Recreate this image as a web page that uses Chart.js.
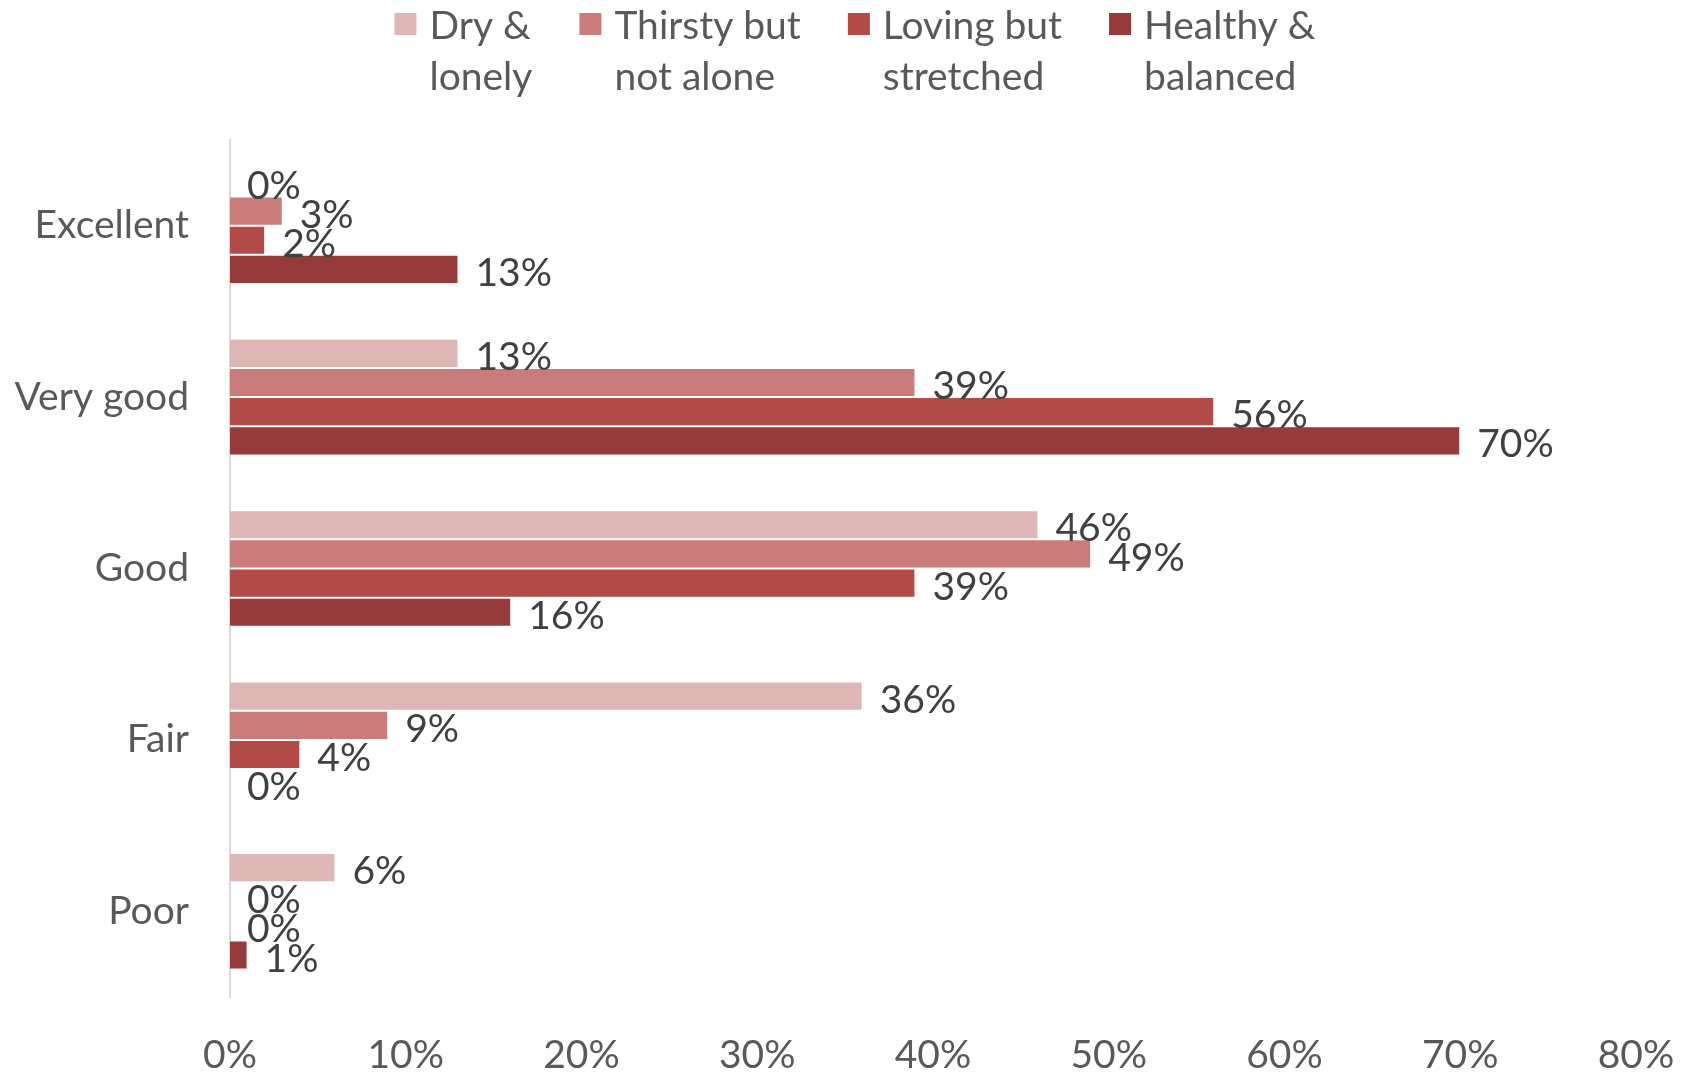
<!DOCTYPE html>
<html>
<head>
<meta charset="utf-8">
<script src="https://cdn.jsdelivr.net/npm/chart.js@4/dist/chart.umd.min.js"></script>
<style>
  html, body { margin: 0; padding: 0; background: #ffffff; }
  #wrap { position: relative; width: 1690px; height: 1075px; }
</style>
</head>
<body>
<div id="wrap"><canvas id="chart"></canvas></div>
<script>
// Self-rated health by relationship profile (share of respondents, %)
const categories = ['Excellent', 'Very good', 'Good', 'Fair', 'Poor'];
const seriesNames = [['Dry &', 'lonely'], ['Thirsty but', 'not alone'], ['Loving but', 'stretched'], ['Healthy &', 'balanced']];
const dryLonely      = [0, 13, 46, 36, 6];
const thirstyNotAlone = [3, 39, 49, 9, 0];
const lovingStretched = [2, 56, 39, 4, 0];
const healthyBalanced = [13, 70, 16, 0, 1];
const xTicks = [0, 10, 20, 30, 40, 50, 60, 70, 80];
const seriesColors = ['#DFB6B6', '#CA7C7B', '#B24A47', '#963B3B'];

const FONT = 'Lato, "Open Sans", sans-serif';
const FONT_SIZE = 39;
const TEXT_GREY = '#595959';
const LABEL_GREY = '#404040';

const seriesValues = [dryLonely, thirstyNotAlone, lovingStretched, healthyBalanced];

// Value labels to the right of each bar end
const valueLabels = {
  id: 'valueLabels',
  afterDatasetsDraw(chart) {
    const ctx = chart.ctx;
    ctx.save();
    ctx.font = FONT_SIZE + 'px ' + FONT;
    ctx.fillStyle = LABEL_GREY;
    ctx.textAlign = 'left';
    ctx.textBaseline = 'middle';
    chart.data.datasets.forEach((ds, di) => {
      const meta = chart.getDatasetMeta(di);
      meta.data.forEach((bar, i) => {
        ctx.fillText(ds.data[i] + '%', bar.x + 17, bar.y + 4);
      });
    });
    ctx.restore();
  }
};

// Two-line legend across the top
const topLegend = {
  id: 'topLegend',
  afterDraw(chart) {
    const ctx = chart.ctx;
    ctx.save();
    ctx.font = FONT_SIZE + 'px ' + FONT;
    const box = 22, boxGap = 13, itemGap = 47, lineH = 51;
    const widths = seriesNames.map(lines => Math.max(...lines.map(t => ctx.measureText(t).width)));
    const total = widths.reduce((a, w) => a + box + boxGap + w, 0) + itemGap * (widths.length - 1);
    let x = (chart.width - total) / 2 + 10;
    const y1 = 24;
    seriesNames.forEach((lines, i) => {
      ctx.fillStyle = seriesColors[i];
      ctx.fillRect(x, y1 - box / 2, box, box);
      ctx.fillStyle = TEXT_GREY;
      ctx.textAlign = 'left';
      ctx.textBaseline = 'middle';
      lines.forEach((t, li) => ctx.fillText(t, x + box + boxGap, y1 + li * lineH + 2));
      x += box + boxGap + widths[i] + itemGap;
    });
    ctx.restore();
  }
};

const chart = new Chart(document.getElementById('chart'), {
  type: 'bar',
  data: {
    labels: categories,
    datasets: seriesValues.map((vals, i) => ({
      label: seriesNames[i].join(' '),
      data: vals,
      backgroundColor: seriesColors[i],
      borderColor: 'rgba(255,255,255,0.25)',
      borderWidth: 1,
      borderSkipped: 'start',
      categoryPercentage: 0.68,
      barPercentage: 1.0
    }))
  },
  options: {
    indexAxis: 'y',
    responsive: true,
    maintainAspectRatio: false,
    devicePixelRatio: 1,
    animation: false,
    layout: { padding: { top: 140, right: 54, bottom: 0, left: 0 } },
    plugins: {
      legend: { display: false },
      tooltip: { enabled: false }
    },
    scales: {
      x: {
        min: 0,
        max: 80,
        afterBuildTicks(scale) { scale.ticks = xTicks.map(v => ({ value: v })); },
        afterFit(scale) {
          scale.height = 78;
          scale.paddingLeft = 0;
          scale.paddingRight = 0;
        },
        grid: { display: false, drawTicks: false },
        border: { display: false },
        ticks: {
          color: TEXT_GREY,
          font: { family: FONT, size: FONT_SIZE },
          padding: 35,
          maxRotation: 0,
          callback: v => v + '%'
        }
      },
      y: {
        afterFit(scale) { scale.width = 230; },
        grid: { display: false, drawTicks: false },
        border: { display: true, color: '#D9D9D9', width: 2 },
        ticks: {
          color: TEXT_GREY,
          font: { family: FONT, size: FONT_SIZE },
          padding: 41
        }
      }
    }
  },
  plugins: [valueLabels, topLegend]
});
</script>
</body>
</html>
